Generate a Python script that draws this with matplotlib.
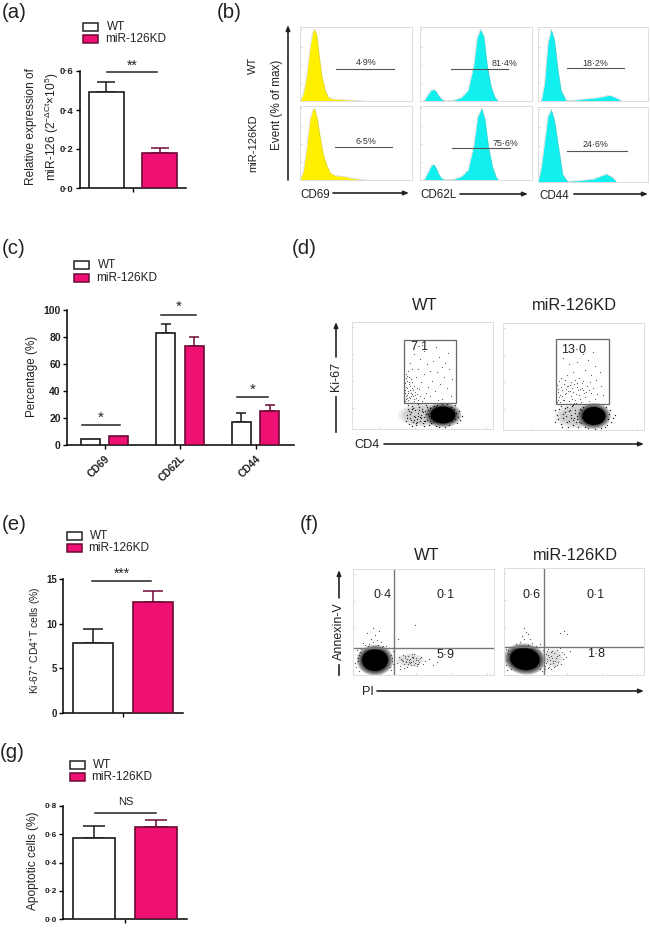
import matplotlib
matplotlib.use("Agg")
import matplotlib.pyplot as plt
from matplotlib.patches import Ellipse, Rectangle

plt.rcParams['font.family'] = ['Liberation Sans', 'DejaVu Sans']
plt.rcParams['mathtext.fontset'] = 'custom'
plt.rcParams['mathtext.rm'] = 'Liberation Sans'
plt.rcParams['mathtext.it'] = 'Liberation Sans'
plt.rcParams['mathtext.bf'] = 'Liberation Sans:bold'

W, H = 650, 952
PINK = '#EE1072'
PINK_EDGE = '#6a0a35'
TXT = '#222222'

# ---- bar data ----
a_wt, a_wt_top = [0.49], [0.545]
a_kd, a_kd_top = [0.18], [0.205]
a_ticks = [0.0, 0.2, 0.4, 0.6]

c_groups = ['CD69', 'CD62L', 'CD44']
c_wt = [4.8, 83, 17]
c_wt_top = [4.8, 90, 24]
c_kd = [6.8, 73, 25]
c_kd_top = [6.8, 80, 30]
c_ticks = [0, 20, 40, 60, 80, 100]

e_wt, e_wt_top = [7.8], [9.4]
e_kd, e_kd_top = [12.4], [13.7]
e_ticks = [0, 5, 10, 15]

g_wt, g_wt_top = [0.575], [0.655]
g_kd, g_kd_top = [0.65], [0.70]
g_ticks = [0.0, 0.2, 0.4, 0.6, 0.8]

# ---- histograms (x in % of panel width, y in % of max) ----
cd69_wt_x = [0, 3, 6, 9, 11.5, 13, 15, 17, 19.5, 22.5, 25.5, 28.5, 36, 48, 57]
cd69_wt_y = [0, 10, 35, 75, 97, 100, 92, 65, 35, 15, 5, 3, 2, 1, 0]
cd69_kd_x = [0, 3, 6, 9, 11.5, 13, 15.5, 18, 21, 24, 27, 31.5, 39, 48, 60]
cd69_kd_y = [0, 12, 45, 85, 98, 100, 85, 60, 35, 20, 10, 6, 5, 2, 0]
cd62l_wt_x = [3.5, 7.5, 10, 12, 14, 16.5, 19, 22, 30, 37, 43, 48, 51, 54, 57, 60, 63.5, 67, 70]
cd62l_wt_y = [0, 10, 15, 16, 14, 8, 3, 0.5, 1, 5, 15, 50, 88, 100, 90, 50, 20, 5, 0]
cd62l_kd_x = [3.5, 7.5, 10, 12, 14, 16.5, 19, 22, 30, 37, 43, 48, 51.5, 55, 58, 61, 64.5, 68, 70]
cd62l_kd_y = [0, 12, 20, 22, 18, 9, 3, 0.5, 1, 5, 14, 48, 88, 100, 85, 48, 20, 4, 0]
cd44_wt_x = [3, 6, 9, 12, 15, 18, 21, 25.5, 32, 44, 56, 65, 70, 76]
cd44_wt_y = [0, 25, 80, 100, 85, 45, 15, 1, 1, 3, 5, 8, 5, 0]
cd44_kd_x = [0, 3, 6, 9, 12, 15, 19.5, 22.5, 27, 38, 50, 62, 67, 71]
cd44_kd_y = [0, 20, 55, 90, 100, 85, 40, 10, 1, 2, 4, 11, 7, 1]

gate_labels = ['4·9%', '81·4%', '18·2%', '6·5%', '75·6%', '24·6%']
gate_start = [32, 27.5, 26, 31, 28.4, 26.7]
gate_end = [84, 78.5, 78, 82, 80, 80.6]
gate_level = [44, 45, 46, 46, 44, 43]
label_x = [59, 75.5, 52, 58.5, 76, 52]
label_y = [53, 52, 52.5, 53, 51, 51]

# ---- Ki-67 dot plots, channel units, estimated by eye ----
d_wt_up_x = [54, 55, 56, 54, 57, 55, 58, 59, 60, 57, 54, 56, 61, 62, 63, 60, 64, 53, 58, 66, 65, 55, 53, 59, 62, 68, 70, 67, 72, 56,
             60, 64, 69, 72, 76, 78, 80, 83, 85, 88, 90, 92, 95, 97, 99, 75, 68, 81, 87, 93, 62, 72, 84, 96, 78, 66, 90, 74, 86, 100, 58, 70,
             53, 54, 56, 58, 55, 57, 59, 61, 54, 53, 63, 65, 57, 60, 62, 55]
d_wt_up_y = [30, 34, 38, 42, 45, 48, 31, 36, 41, 52, 55, 29, 33, 28, 37, 47, 31, 36, 43, 29, 35, 31, 46, 50, 43, 33, 28, 40, 31, 58,
             60, 52, 47, 55, 42, 33, 48, 38, 57, 45, 30, 52, 41, 60, 33, 65, 70, 68, 72, 66, 75, 78, 82, 76, 58, 60, 62, 36, 29, 50, 66, 84,
             28, 33, 36, 39, 41, 47, 33, 39, 51, 39, 34, 41, 32, 35, 30, 53]
d_wt_low_x = [54, 55, 56, 57, 58, 59, 60, 61, 62, 63, 64, 65, 66, 67, 68, 69, 70, 71, 72, 73, 74, 75, 76, 77, 78, 79, 80, 81, 82, 83, 84,
              100, 101, 102, 103, 104, 105, 106, 107, 108, 110, 56, 60, 66, 72, 99, 103, 97, 93, 85, 90, 95, 87,
              55, 57, 59, 61, 63, 65, 67, 69, 71, 73, 75, 77, 79, 81, 83, 85, 58, 62, 66, 70, 74, 78, 82, 86, 60, 64, 68, 72, 76, 80, 84, 88]
d_wt_low_y = [8, 14, 20, 5, 11, 17, 23, 7, 13, 19, 4, 10, 16, 22, 8, 14, 20, 6, 12, 18, 24, 9, 15, 4, 21, 11, 17, 7, 23, 13, 3,
              8, 14, 20, 10, 16, 6, 12, 18, 9, 13, 24, 3, 25, 3, 22, 24, 4, 2, 24, 25, 25, 2,
              11, 18, 9, 21, 12, 7, 19, 11, 17, 8, 22, 13, 6, 20, 10, 17, 15, 9, 13, 18, 15, 8, 17, 10, 20, 6, 12, 8, 19, 12, 22, 19]

d_kd_up_x = [54, 56, 55, 58, 54, 60, 62, 59, 64, 57, 66, 68, 63, 70, 72, 67, 74, 76, 61, 78, 80, 82, 73, 84, 86, 88, 65, 71, 79, 55, 90, 92, 77, 69, 94, 83,
             58, 64, 70, 76, 82, 88, 93, 98, 100, 66, 74, 85, 92, 60, 97, 80, 90, 72, 87,
             55, 57, 59, 61, 63, 65, 67, 69, 71, 73, 75, 77, 79, 81, 56, 62, 68, 74, 80, 86]
d_kd_up_y = [28, 33, 38, 43, 45, 30, 36, 40, 44, 35, 29, 34, 41, 38, 30, 45, 43, 35, 46, 28, 40, 33, 27, 44, 29, 37, 39, 46, 47, 30, 42, 31, 41, 42, 36, 38,
             52, 55, 58, 52, 60, 55, 50, 44, 35, 66, 68, 70, 64, 72, 58, 76, 78, 50, 48,
             41, 28, 34, 30, 37, 44, 39, 31, 27, 36, 40, 31, 42, 37, 49, 50, 48, 47, 49, 40]
d_kd_low_x = [52, 54, 56, 58, 60, 62, 64, 66, 68, 70, 72, 74, 76, 78, 80, 82, 52, 58, 65, 70, 110, 108, 106, 104, 107, 103, 112, 102, 98, 85, 92, 105,
              55, 59, 63, 67, 71, 75, 79, 73, 69, 77, 60, 64, 68, 72, 76, 80, 62, 66, 70, 74, 78, 82]
d_kd_low_y = [8, 15, 21, 6, 12, 18, 23, 9, 15, 5, 20, 11, 17, 7, 23, 3, 20, 24, 3, 25, 12, 8, 16, 5, 20, 23, 15, 3, 2, 2, 1, 11,
              11, 3, 14, 20, 12, 3, 13, 8, 24, 21, 16, 8, 12, 17, 8, 14, 22, 19, 10, 14, 20, 9]

# ---- Annexin-V / PI dot plots ----
f_wt_x = [3, 5, 6, 4, 8, 2, 37, 39, 38, 40, 36, 33, 12, 16, 20, 25, 30, 10, 18, 22, 28, 14, 24, 26, 20, 45, 62,
          44, 46, 47, 49, 50, 51, 52, 53, 54, 55, 56, 57, 58, 59, 60, 61, 62, 63, 64, 65, 66, 68, 70, 72, 76, 80, 84, 48, 53, 57, 60, 64,
          50, 52, 54, 55, 56, 58, 60, 61, 63, 65, 47, 51, 59, 67, 6, 7, 5, 38, 40, 39, 15, 29]
f_wt_y = [8, 14, 20, 25, 26, 12, 8, 14, 20, 24, 27, 29, 30, 31, 33, 30, 29, 32, 36, 40, 33, 42, 35, 44, 47, 36, 50,
          12, 18, 9, 15, 20, 11, 17, 14, 8, 19, 13, 16, 10, 18, 14, 21, 12, 17, 9, 15, 13, 18, 11, 14, 16, 10, 13, 16, 13, 12, 18, 11,
          14, 19, 16, 11, 15, 13, 17, 10, 15, 11, 6, 7, 21, 17, 4, 23, 17, 5, 11, 17, 29, 28]
f_kd_x = [2, 3, 4, 2, 5, 7, 39, 41, 42, 43, 44, 45, 12, 16, 20, 24, 28, 32, 18, 22, 26, 20, 24, 36, 46, 47, 48, 49, 50, 51, 52, 53, 54, 55, 56, 57, 58, 59, 60, 44, 47, 50, 53, 62, 66, 56, 60, 63,
          40, 42, 44, 46, 48, 43, 45, 47, 49, 41, 43, 51, 53, 3, 4, 36, 38]
f_kd_y = [10, 15, 21, 26, 28, 6, 25, 9, 21, 14, 26, 18, 31, 33, 36, 30, 32, 29, 39, 43, 36, 47, 41, 31, 11, 19, 24, 14, 22, 9, 17, 25, 13, 20, 27, 11, 23, 16, 21, 7, 6, 8, 10, 18, 24, 42, 44, 41,
          18, 12, 20, 15, 17, 24, 8, 23, 12, 6, 16, 14, 19, 5, 25, 6, 4]


def px_axes(x0, y0, x1, y1):
    # box given in picture pixels, y from the top
    return fig.add_axes([x0 / W, 1 - y1 / H, (x1 - x0) / W, (y1 - y0) / H])


def bar_panel(box, xlim, ymax, ticks, tick_fmt, xs, wt, wt_top, kd, kd_top, off, width, cap, size):
    ax = px_axes(*box)
    ax.patch.set_alpha(0)
    for i, x in enumerate(xs):
        ax.bar(x - off, wt[i], width, color='white', edgecolor='#1a1a1a', linewidth=1.2, zorder=3)
        ax.bar(x + off, kd[i], width, color=PINK, edgecolor=PINK_EDGE, linewidth=1.2, zorder=3)
        if wt_top[i] > wt[i]:
            ax.errorbar(x - off, wt[i], yerr=[[0], [wt_top[i] - wt[i]]], color='#1a1a1a', capsize=cap, elinewidth=1.1, capthick=1.1, zorder=2)
        if kd_top[i] > kd[i]:
            ax.errorbar(x + off, kd[i], yerr=[[0], [kd_top[i] - kd[i]]], color=PINK_EDGE, capsize=cap, elinewidth=1.1, capthick=1.1, zorder=2)
    ax.set_xlim(*xlim)
    ax.set_ylim(0, ymax)
    ax.set_yticks(ticks)
    ax.set_yticklabels([tick_fmt(t) for t in ticks], fontsize=size, fontweight='bold', color=TXT)
    ax.set_xticks(xs)
    ax.set_xticklabels([])
    ax.tick_params(length=3, width=1, pad=1.5)
    ax.spines['top'].set_visible(False)
    ax.spines['right'].set_visible(False)
    for s in ['left', 'bottom']:
        ax.spines[s].set_linewidth(1.1)
    return ax


def dot_fmt(t):
    return f'{t:.1f}'.replace('.', '·')


def legend(x, y_wt, y_kd, x_wt, x_kd, size=8.5, bw=15, bh=8):
    over.add_patch(Rectangle((x, y_wt), bw, bh, fc='white', ec='#222222', lw=1.1))
    over.add_patch(Rectangle((x, y_kd), bw, bh, fc=PINK, ec=PINK_EDGE, lw=1.1))
    over.text(x_wt, y_wt + bh / 2, 'WT', fontsize=size, va='center', color=TXT)
    over.text(x_kd, y_kd + bh / 2, 'miR-126KD', fontsize=size, va='center', color=TXT)


def sig(x0, x1, y, label, ty, size=9):
    over.plot([x0, x1], [y, y], color='#222222', lw=1.1)
    over.text((x0 + x1) / 2, ty, label, ha='center', va='center', fontsize=size, color=TXT)


def arrow(x0, y0, x1, y1):
    over.annotate('', xy=(x1, y1), xytext=(x0, y0),
                  arrowprops=dict(arrowstyle='-|>,head_length=0.3,head_width=0.12', color='#222222', lw=1.2, shrinkA=0, shrinkB=0))


def flow_axes(box, xmax, ymax):
    ax = px_axes(*box)
    ax.set_xlim(0, xmax)
    ax.set_ylim(0, ymax)
    ax.set_xticks([0.2 * xmax, 0.45 * xmax, 0.7 * xmax, 0.95 * xmax])
    ax.set_xticklabels([])
    ax.set_yticks([0.2 * ymax, 0.45 * ymax, 0.7 * ymax, 0.95 * ymax])
    ax.set_yticklabels([])
    ax.tick_params(length=1.5, width=0.4, color='#bbbbbb', pad=0, direction='in')
    for s in ax.spines.values():
        s.set_color('#dddddd')
        s.set_linewidth(0.7)
    return ax


def soft_blob(ax, cx, cy, w, h, angle=0, grey='black', steps=(1.45, 1.3, 1.18, 1.08), alpha=0.28, solid=True):
    # fading rings so the dense part of the cloud has no hard edge
    for k in steps:
        ax.add_patch(Ellipse((cx, cy), w * k, h * k, angle=angle, color=grey, alpha=alpha, lw=0))
    if solid:
        ax.add_patch(Ellipse((cx, cy), w, h, angle=angle, color=grey, lw=0))


fig = plt.figure(figsize=(W / 100, H / 100), dpi=100)
over = fig.add_axes([0, 0, 1, 1], zorder=10)
over.set_xlim(0, W)
over.set_ylim(H, 0)
over.axis('off')
over.patch.set_alpha(0)

for lab, x, y in [('(a)', 2, 12), ('(b)', 217, 12), ('(c)', 2, 248), ('(d)', 292, 248),
                  ('(e)', 2, 524), ('(f)', 300, 524), ('(g)', 0, 752)]:
    over.text(x, y, lab, fontsize=14.7, va='center', color=TXT)

# (a)
bar_panel((80, 71, 186, 188), (-53, 53), 0.6, a_ticks, dot_fmt, [0], a_wt, a_wt_top, a_kd, a_kd_top, 26.75, 35, 6.5, 6.8)
legend(83, 23, 34.5, 107, 105)
sig(107, 157, 72, '**', 66, 10)
over.text(31, 127, 'Relative expression of', rotation=90, fontsize=8.6, ha='center', va='center', color=TXT)
over.text(52, 127, 'miR-126 (2$^{-\\Delta Ct}$×10$^{5}$)', rotation=90, fontsize=8.6, ha='center', va='center', color=TXT)

# (b)
hist_x = [cd69_wt_x, cd62l_wt_x, cd44_wt_x, cd69_kd_x, cd62l_kd_x, cd44_kd_x]
hist_y = [cd69_wt_y, cd62l_wt_y, cd44_wt_y, cd69_kd_y, cd62l_kd_y, cd44_kd_y]
hist_box = [(300, 27, 412, 101), (420, 27, 532, 101), (538, 27, 648, 101),
            (300, 106, 412, 180), (420, 106, 532, 180), (538, 107, 648, 182)]
hist_col = ['#FFF000', '#12EFEF', '#12EFEF', '#FFF000', '#12EFEF', '#12EFEF']
for i in range(6):
    ax = flow_axes(hist_box[i], 100, 100)
    ax.set_xticks([])
    ax.set_yticks([0, 25, 50, 75, 100])
    ax.fill_between(hist_x[i], hist_y[i], 0, color=hist_col[i], lw=0)
    ax.plot(hist_x[i], hist_y[i], color='#999999', lw=0.5, ls=':')
    ax.plot([gate_start[i], gate_end[i]], [gate_level[i], gate_level[i]], color='#555555', lw=0.8)
    ax.text(label_x[i], label_y[i], gate_labels[i], fontsize=6.4, ha='center', va='center', color='#333333')
    ax.set_ylim(0, 103)
arrow(288, 180, 288, 25)
over.text(277, 105, 'Event (% of max)', rotation=90, fontsize=8.5, ha='center', va='center', color=TXT)
over.text(253, 65, 'WT', rotation=90, fontsize=8, ha='center', va='center', color=TXT)
over.text(253, 143, 'miR-126KD', rotation=90, fontsize=8, ha='center', va='center', color=TXT)
over.text(300, 195, 'CD69', fontsize=8.4, va='center', color=TXT)
arrow(333, 193, 409, 193)
over.text(420, 195, 'CD62L', fontsize=8.4, va='center', color=TXT)
arrow(460, 194, 528, 194)
over.text(539, 196, 'CD44', fontsize=8.4, va='center', color=TXT)
arrow(574, 194, 648, 194)

# (c)
ax = bar_panel((67, 310, 294, 445), (-37.5, 189.5), 100, c_ticks, str, [0, 75.5, 151], c_wt, c_wt_top, c_kd, c_kd_top, 14.2, 19, 3.3, 7.5)
ax.set_xticklabels(c_groups, rotation=45, ha='right', rotation_mode='anchor', fontsize=7.5, fontweight='bold', color=TXT)
ax.tick_params(axis='x', pad=3)
legend(74, 261, 274, 98, 96, bh=8, bw=15)
sig(82, 120, 425, '*', 418, 11)
sig(161, 196, 315, '*', 307, 11)
sig(237, 268, 397, '*', 390, 11)
over.text(32, 376, 'Percentage (%)', rotation=90, fontsize=8.4, ha='center', va='center', color=TXT)

# (d)
titles = ['WT', 'miR-126KD']
for x, t in zip([425, 574], titles):
    over.text(x, 306, t, fontsize=11.8, ha='center', va='center', color=TXT)
d_boxes = [(352, 322, 493, 429), (503, 323, 644, 430)]
d_up = [(d_wt_up_x, d_wt_up_y), (d_kd_up_x, d_kd_up_y)]
d_low = [(d_wt_low_x, d_wt_low_y), (d_kd_low_x, d_kd_low_y)]
d_gate = [(52, 26, 52, 63), (53, 26, 53, 65)]
d_core = [(91, 14, 25, 17), (91, 14, 23, 18)]
d_halo = [(72, 14, 38, 17), (76, 14, 36, 18)]
d_text = [('7·1', 67, 82), ('13·0', 71, 80)]
for i in range(2):
    ax = flow_axes(d_boxes[i], 141, 107)
    hx, hy, hw, hh = d_halo[i]
    soft_blob(ax, hx, hy, hw, hh, grey='#555555', steps=(1.35, 1.2, 1.05), alpha=0.1, solid=False)
    ax.scatter(*d_up[i], s=0.7, color='#555555', lw=0)
    ax.scatter(*d_low[i], s=1.0, color='#222222', lw=0)
    cx, cy, cw, ch = d_core[i]
    soft_blob(ax, cx, cy, cw, ch, steps=(1.45, 1.3, 1.18, 1.08), alpha=0.25)
    gx, gy, gw, gh = d_gate[i]
    ax.add_patch(Rectangle((gx, gy), gw, gh, fc='none', ec='#666666', lw=0.9))
    ax.text(d_text[i][1], d_text[i][2], d_text[i][0], fontsize=9, ha='center', va='center', color=TXT)
over.plot([336, 336], [432, 397], color='#222222', lw=1.2)
arrow(336, 357, 336, 322)
over.text(336, 376, 'Ki-67', rotation=90, fontsize=9, ha='center', va='center', color=TXT)
over.text(354, 445, 'CD4', fontsize=9.2, va='center', color=TXT)
arrow(384, 444, 644, 444)

# (e)
bar_panel((63, 579, 183, 713), (-60, 60), 15, e_ticks, str, [0], e_wt, e_wt_top, e_kd, e_kd_top, 30, 40, 7.2, 7)
legend(67, 532, 544, 90, 88)
sig(92, 151, 581, '***', 574, 10)
over.text(36, 640, 'Ki-67$^{+}$ CD4$^{+}$T cells (%)', rotation=90, fontsize=7.5, ha='center', va='center', color=TXT)

# (f)
for x, t in zip([427, 575], titles):
    over.text(x, 556, t, fontsize=11.8, ha='center', va='center', color=TXT)
f_boxes = [(353, 569, 494, 675), (504, 568, 644, 675)]
f_dots = [(f_wt_x, f_wt_y), (f_kd_x, f_kd_y)]
f_vline = [41, 40]
f_hline = [27, 28]
f_core = [(22, 15, 26, 22, 0), (21, 16, 30, 22, -8)]
f_halo = [(57, 15, 22, 10), (50, 17, 14, 14)]
f_text = [[('0·4', 383, 595), ('0·1', 446, 595), ('5·9', 446, 655)],
          [('0·6', 532, 595), ('0·1', 596, 595), ('1·8', 596, 654)]]
for i in range(2):
    ax = flow_axes(f_boxes[i], 141, 107)
    hx, hy, hw, hh = f_halo[i]
    soft_blob(ax, hx, hy, hw, hh, grey='#777777', steps=(1.3, 1.1), alpha=0.12, solid=False)
    ax.scatter(*f_dots[i], s=0.8, color='#555555', lw=0)
    cx, cy, cw, ch, ang = f_core[i]
    soft_blob(ax, cx, cy, cw, ch, angle=ang, steps=(1.4, 1.28, 1.17, 1.08), alpha=0.28)
    ax.axvline(f_vline[i], color='#777777', lw=1)
    ax.axhline(f_hline[i], color='#777777', lw=1)
    for t, x, y in f_text[i]:
        over.text(x, y, t, fontsize=9, ha='center', va='center', color=TXT)
over.plot([339, 339], [665, 675], color='#222222', lw=1.2)
arrow(339, 598, 339, 570)
over.text(339, 631, 'Annexin-V', rotation=90, fontsize=9, ha='center', va='center', color=TXT)
over.text(362, 692, 'PI', fontsize=9.2, va='center', color=TXT)
arrow(377, 691, 644, 691)

# (g)
bar_panel((63, 806, 187, 919), (-62, 62), 0.8, g_ticks, dot_fmt, [0], g_wt, g_wt_top, g_kd, g_kd_top, 31, 41.5, 8, 6)
legend(70, 761, 773, 93, 91)
sig(95, 156, 813, 'NS', 802, 8)
over.text(33, 861, 'Apoptotic cells (%)', rotation=90, fontsize=8.6, ha='center', va='center', color=TXT)

fig.savefig('out.png', dpi=100)
